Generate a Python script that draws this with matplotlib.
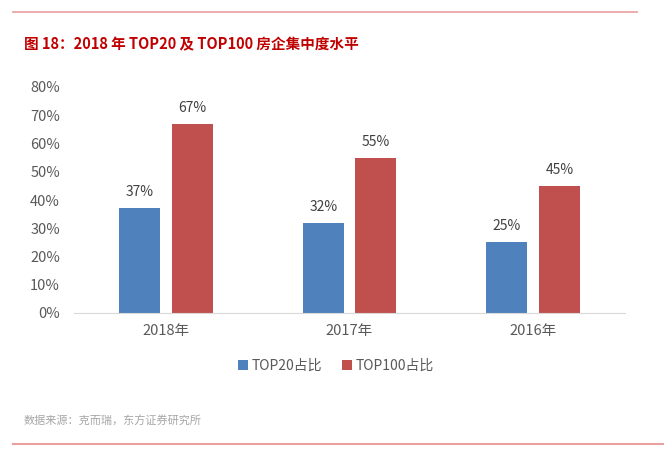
import matplotlib
matplotlib.use("Agg")
import matplotlib.pyplot as plt
import numpy as np

plt.rcParams['font.family'] = ['Noto Sans CJK SC', 'DejaVu Sans']

categories = ["2018年", "2017年", "2016年"]
top20 = [37, 32, 25]
top100 = [67, 55, 45]
series_names = ["TOP20占比", "TOP100占比"]
yticks = [0, 10, 20, 30, 40, 50, 60, 70, 80]

fig = plt.figure(figsize=(6.64, 4.59), dpi=100)
W, H = 664, 459
ax = fig.add_axes([74 / W, 1 - 313 / H, (625 - 74) / W, (313 - 87) / H])

x = np.arange(len(categories))
bw = 0.223
off = 0.143
b1 = ax.bar(x - off, top20, bw, color="#4F81BD", label=series_names[0])
b2 = ax.bar(x + off, top100, bw, color="#C0504D", label=series_names[1])
for bars, vals in ((b1, top20), (b2, top100)):
    for r, v in zip(bars, vals):
        ax.text(r.get_x() + r.get_width() / 2, v + 3.2, f"{v}%", ha="center", va="bottom",
                fontsize=10, color="#404040")

ax.set_xlim(-0.5, 2.5)
ax.set_ylim(0, 80)
ax.set_yticks(yticks)
ax.set_yticklabels([f"{t}%" for t in yticks], fontsize=10.5, color="#595959")
ax.set_xticks(x)
ax.set_xticklabels(categories, fontsize=10.5, color="#595959")
for s in ["top", "right", "left"]:
    ax.spines[s].set_visible(False)
ax.spines["bottom"].set_color("#D9D9D9")
ax.tick_params(axis="both", length=0, pad=8)
ax.tick_params(axis="y", pad=10)

leg = fig.legend(handles=[b1, b2], loc="center", bbox_to_anchor=(336 / W, 1 - 366 / H),
                 ncol=2, frameon=False, fontsize=10, handlelength=0.7, handleheight=0.7,
                 columnspacing=1.4, handletextpad=0.3)
for t in leg.get_texts():
    t.set_color("#595959")

fig.add_artist(plt.Line2D([13 / W, 637 / W], [1 - 12 / H, 1 - 12 / H], color="#E8A0A0", lw=1.2))
fig.add_artist(plt.Line2D([13 / W, 1.0], [1 - 444 / H, 1 - 444 / H], color="#E8A0A0", lw=1.5))

fig.text(24 / W, 1 - 44 / H, "图 18：2018 年 TOP20 及 TOP100 房企集中度水平", fontsize=10.5,
         color="#C00000", fontweight="bold", va="center", ha="left")
fig.text(24 / W, 1 - 421 / H, "数据来源：克而瑞，东方证券研究所", fontsize=8,
         color="#A6A6A6", va="center", ha="left")

fig.savefig("out.png", dpi=100)
